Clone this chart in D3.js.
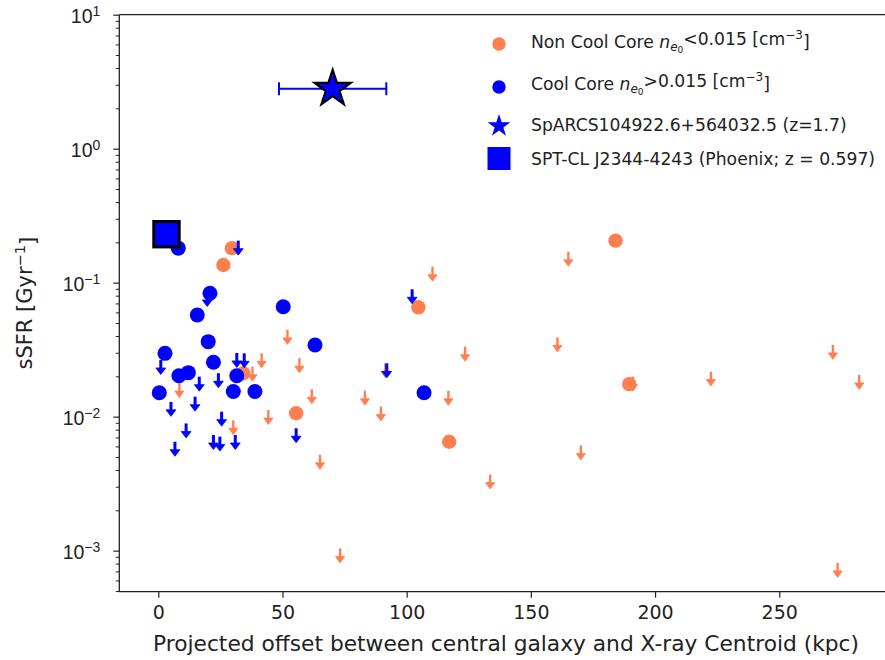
<!DOCTYPE html>
<html><head><meta charset="utf-8">
<script src="https://cdn.jsdelivr.net/npm/d3@7"></script>
<style>body{margin:0;background:#fff} svg{display:block;font-family:"DejaVu Sans",sans-serif}</style>
</head><body><svg id="c" width="885" height="660"></svg>
<script>
// ---------------- data ----------------
// Non cool core, detections
const nccX = [29.6, 26.2, 34.2, 55.5, 104.7, 117.1, 184.1, 189.6];
const nccY = [0.181, 0.1355, 0.0211, 0.0106, 0.0655, 0.0065, 0.206, 0.0175];
// Non cool core, upper limits
const nccLimX = [8.5, 41.6, 37.9, 30.2, 44.3, 52.0, 56.8, 61.8, 65.1, 73.2, 83.2, 89.6, 91.4, 110.4, 123.5, 116.8, 133.6, 165.1, 160.7, 191.1, 222.5, 271.6, 282.2, 170.1, 273.5];
const nccLimY = [0.0178, 0.0297, 0.0236, 0.0094, 0.0112, 0.0444, 0.0273, 0.0160, 0.0052, 0.00104, 0.0156, 0.0119, 0.0250, 0.1316, 0.0333, 0.0156, 0.0037, 0.170, 0.0391, 0.0199, 0.0217, 0.0343, 0.0205, 0.0061, 0.00081];
// Cool core, detections
const ccX = [8.05, 20.8, 15.7, 50.3, 20.1, 2.7, 22.2, 8.3, 12.1, 31.6, 0.4, 30.2, 38.9, 63.1, 107.0];
const ccY = [0.181, 0.0833, 0.0574, 0.0662, 0.0363, 0.0297, 0.0255, 0.0202, 0.0213, 0.0202, 0.0151, 0.0154, 0.0154, 0.0343, 0.0151];
// Cool core, upper limits
const ccLimX = [32.2, 19.7, 1.0, 31.6, 34.6, 16.5, 24.2, 5.1, 14.8, 25.5, 11.2, 6.7, 22.2, 24.8, 31.0, 55.5, 92.0, 102.2];
const ccLimY = [0.206, 0.0852, 0.0265, 0.0299, 0.0297, 0.0199, 0.0211, 0.0129, 0.0141, 0.0109, 0.0089, 0.0065, 0.0073, 0.0071, 0.0073, 0.0082, 0.0250, 0.0893];
// SpARCS104922.6+564032.5
const sparcsX = 70.2, sparcsY = 2.8, sparcsXerr = 21.6;
// Phoenix
const phoenixX = 3.3, phoenixY = 0.230;
// axes
const xTicks = [0, 50, 100, 150, 200, 250];
const yTicks = [1e-3, 1e-2, 1e-1, 1e0, 1e1];
const yTickExp = ["\u22123", "\u22122", "\u22121", "0", "1"];
const xDomain = [-15.7, 292.7];
const yDomain = [4.94e-4, 10];
const xLabel = "Projected offset between central galaxy and X-ray Centroid (kpc)";

const ORANGE = "#ff7f50", BLUE = "#0000ff";

// ---------------- layout ----------------
const L = 119.3, T = 14.7, B = 591.7, R = 885.3;
const svg = d3.select("#c");
const x = d3.scaleLinear().domain(xDomain).range([L, R]);
const y = d3.scaleLog().domain(yDomain).range([B, T]);

// ---------------- marks ----------------
const g = svg.append("g");

function arrow(sel, color, w, hw) {
  sel.append("line").attr("x1", 0).attr("x2", 0).attr("y1", 0).attr("y2", 10)
    .attr("stroke", color).attr("stroke-width", w);
  sel.append("path").attr("d", `M${-hw},8L${hw},8L0,14.5Z`).attr("fill", color)
    .attr("stroke", color).attr("stroke-width", 0.8).attr("stroke-linejoin", "round");
}

// non cool core detections
g.append("g").selectAll("circle").data(nccX.map((v, i) => [v, nccY[i]])).join("circle")
  .attr("cx", d => x(d[0])).attr("cy", d => y(d[1])).attr("r", 7.2).attr("fill", ORANGE);
// non cool core limits
g.append("g").selectAll("g").data(nccLimX.map((v, i) => [v, nccLimY[i]])).join("g")
  .attr("transform", d => `translate(${x(d[0])},${y(d[1])})`)
  .each(function () { arrow(d3.select(this), ORANGE, 2.4, 4.6); });
// cool core detections
g.append("g").selectAll("circle").data(ccX.map((v, i) => [v, ccY[i]])).join("circle")
  .attr("cx", d => x(d[0])).attr("cy", d => y(d[1])).attr("r", 7.5).attr("fill", BLUE);
// cool core limits
g.append("g").selectAll("g").data(ccLimX.map((v, i) => [v, ccLimY[i]])).join("g")
  .attr("transform", d => `translate(${x(d[0])},${y(d[1])})`)
  .each(function () { arrow(d3.select(this), BLUE, 3, 4.9); });

function starPath(Ro) {
  const Ri = Ro * 0.381966, pts = [];
  for (let k = 0; k < 10; k++) {
    const a = -Math.PI / 2 + k * Math.PI / 5, r = k % 2 ? Ri : Ro;
    pts.push([r * Math.cos(a), r * Math.sin(a)]);
  }
  return "M" + pts.map(p => p[0].toFixed(2) + "," + p[1].toFixed(2)).join("L") + "Z";
}

// SpARCS error bar + star
const sy = y(sparcsY);
g.append("line").attr("x1", x(sparcsX - sparcsXerr)).attr("x2", x(sparcsX + sparcsXerr))
  .attr("y1", sy).attr("y2", sy).attr("stroke", BLUE).attr("stroke-width", 2);
[sparcsX - sparcsXerr, sparcsX + sparcsXerr].forEach(v => {
  g.append("line").attr("x1", x(v)).attr("x2", x(v)).attr("y1", sy - 6.5).attr("y2", sy + 6.5)
    .attr("stroke", BLUE).attr("stroke-width", 2);
});
g.append("path").attr("d", starPath(19)).attr("transform", `translate(${x(sparcsX)},${sy})`)
  .attr("fill", BLUE).attr("stroke", "#000").attr("stroke-width", 2.2).attr("stroke-linejoin", "miter");

// Phoenix square
g.append("rect").attr("x", x(phoenixX) - 12.7).attr("y", y(phoenixY) - 12.7)
  .attr("width", 25.4).attr("height", 25.4).attr("fill", BLUE).attr("stroke", "#000").attr("stroke-width", 3);

// ---------------- axes ----------------
const axCol = "#222";
// x axis
const xa = svg.append("g").attr("transform", `translate(0,${B})`)
  .call(d3.axisBottom(x).tickValues(xTicks).tickSize(6).tickPadding(6).tickFormat(d3.format("d")));
xa.select(".domain").remove();
xa.selectAll("line").attr("stroke", axCol).attr("stroke-width", 1.2);
xa.selectAll("text").attr("font-size", 19).attr("fill", "#222").attr("font-family", "DejaVu Sans").attr("dy", "0.78em");

// y minor ticks
const minor = [];
for (let e = -4; e <= 0; e++) for (let m = 2; m <= 9; m++) {
  const v = m * Math.pow(10, e);
  if (v >= yDomain[0] && v <= yDomain[1]) minor.push(v);
}
const ym = svg.append("g").attr("transform", `translate(${L},0)`)
  .call(d3.axisLeft(y).tickValues(minor).tickSize(3.5).tickFormat(""));
ym.select(".domain").remove();
ym.selectAll("line").attr("stroke", axCol).attr("stroke-width", 1);

const ya = svg.append("g").attr("transform", `translate(${L},0)`)
  .call(d3.axisLeft(y).tickValues(yTicks).tickSize(6).tickPadding(13).tickFormat(""));
ya.select(".domain").remove();
ya.selectAll("line").attr("stroke", axCol).attr("stroke-width", 1.2);
ya.selectAll("text").each(function (d, i) {
  const t = d3.select(this).attr("font-size", 19.5).attr("fill", "#222").attr("dy", "0.38em");
  t.append("tspan").text("10");
  t.append("tspan").attr("dy", "-0.5em").attr("font-size", 14).text(yTickExp[i]);
});

// spines
svg.append("path").attr("d", `M${L},${T}V${B}H${R}M${L},${T}H${R}`)
  .attr("fill", "none").attr("stroke", axCol).attr("stroke-width", 1.3);

// axis labels
svg.append("text").attr("x", 506).attr("y", 651).attr("text-anchor", "middle")
  .attr("font-size", 20.5).attr("textLength", 706).attr("lengthAdjust", "spacingAndGlyphs")
  .attr("fill", "#222").text(xLabel);
const yl = svg.append("text").attr("transform", `translate(32,${(T + B) / 2}) rotate(-90)`)
  .attr("text-anchor", "middle").attr("font-size", 21).attr("fill", "#222");
yl.append("tspan").text("sSFR [Gyr");
yl.append("tspan").attr("dy", "-0.5em").attr("font-size", 14.5).text("\u22121");
yl.append("tspan").attr("dy", "0.5em").text("]");

// ---------------- legend ----------------
const leg = svg.append("g").attr("font-size", 17.2).attr("fill", "#222");
const lx = 499, tx = 531;
const rows = [44, 87, 125, 158.5];
leg.append("circle").attr("cx", lx).attr("cy", rows[0]).attr("r", 6.7).attr("fill", ORANGE);
leg.append("circle").attr("cx", lx).attr("cy", rows[1]).attr("r", 6.7).attr("fill", BLUE);
leg.append("path").attr("d", starPath(12)).attr("transform", `translate(${lx},${rows[2] + 1})`).attr("fill", BLUE);
leg.append("rect").attr("x", lx - 11.5).attr("y", rows[3] - 11.5).attr("width", 23).attr("height", 23).attr("fill", BLUE);

function coreLabel(yy, name, op) {
  const t = leg.append("text").attr("x", tx).attr("y", yy);
  t.append("tspan").text(name + " ");
  t.append("tspan").attr("font-style", "italic").text("n");
  t.append("tspan").attr("font-style", "italic").attr("font-size", 12).attr("dy", "0.25em").text("e");
  t.append("tspan").attr("font-size", 9).attr("dy", "0.2em").text("0");
  t.append("tspan").attr("dy", "-0.45em").text(op + "0.015 [cm");
  t.append("tspan").attr("font-size", 12).attr("dy", "-0.5em").text("\u22123");
  t.append("tspan").attr("dy", "0.5em").text("]");
}
coreLabel(rows[0] + 4, "Non Cool Core", "<");
coreLabel(rows[1] + 3, "Cool Core", ">");
leg.append("text").attr("x", tx).attr("y", rows[2] + 6).text("SpARCS104922.6+564032.5 (z=1.7)");
leg.append("text").attr("x", tx).attr("y", rows[3] + 6).text("SPT-CL J2344-4243 (Phoenix; z = 0.597)");
</script></body></html>
